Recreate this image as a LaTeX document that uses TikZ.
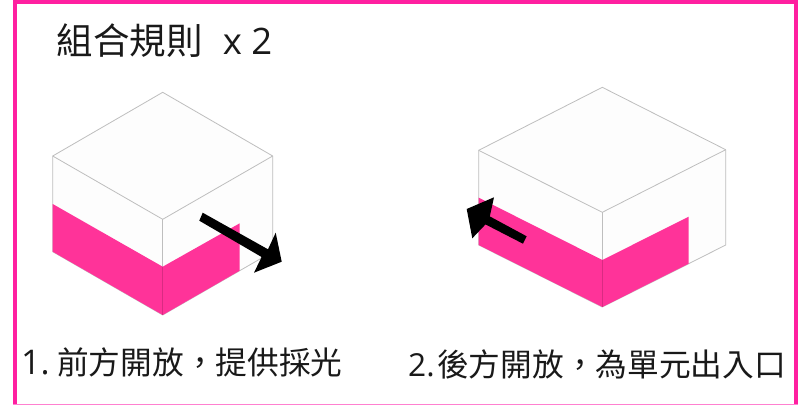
\documentclass[tikz,border=0pt]{standalone}
\usepackage{fontspec}
\setmainfont{Open Sans}
\newfontfamily\cjk{Noto Sans CJK TC}
\newcommand{\fwcomma}{\symbol{"FF0C}}
\definecolor{framepink}{HTML}{FF1FA0}
\definecolor{framelight}{HTML}{FF80D0}
\definecolor{wallpink}{HTML}{FF3399}
\definecolor{edgegrey}{HTML}{BEBEBE}
\definecolor{boxwhite}{HTML}{FDFDFD}
\tikzset{
  frameline/.style={fill=framepink,draw=none},
  boxface/.style={fill=boxwhite,draw=edgegrey,line width=0.8pt,line join=round},
  pinkface/.style={fill=wallpink,draw=none},
  seam/.style={draw=wallpink!85!black,line width=0.6pt},
  blackarrow/.style={fill=black,draw=none},
  titletext/.style={anchor=base west,inner sep=0pt,text=black!90,font=\fontsize{36.5}{40}\selectfont},
  captext/.style={anchor=base west,inner sep=0pt,text=black!90,font=\fontsize{31.7}{36}\selectfont}
}
\begin{document}
\begin{tikzpicture}[x=1pt,y=-1pt]
\useasboundingbox (0,0) rectangle (798,405);
\fill[white] (0,0) rectangle (798,405);
% frame
\fill[frameline] (13,0) rectangle (798,4);
\fill[frameline] (13,0) rectangle (17,405);
\fill[frameline] (794,0) rectangle (797.5,405);
\fill[framelight] (13,403.6) rectangle (798,405);
% title
\node[titletext] (title) at (56.5,54) {{\cjk 組合規則}\hspace{0.55em}x 2};
% cube 1
\draw[boxface] (52.7,156) -- (162.7,92.3) -- (272.7,156) -- (272.7,251.7) -- (239.7,270.7) -- (162.7,315) -- (52.7,251.7) -- cycle;
\draw[boxface,fill=none] (52.7,156) -- (162.7,219.3) -- (272.7,156);
\draw[boxface,fill=none] (162.7,219.3) -- (162.7,266.7);
\fill[pinkface] (52.7,204) -- (162.7,266.7) -- (239.7,223.3) -- (239.7,270.7) -- (162.7,315) -- (52.7,251.7) -- cycle;
\draw[seam] (162.7,266.7) -- (162.7,315);
\fill[blackarrow] (202.7,212.7) -- (268.0,249.3) -- (275.7,232.7) -- (281.7,261.7) -- (254,272.7) -- (261.6,257.0) -- (199.3,220.7) -- cycle;
% cube 2
\draw[boxface] (478.7,150.3) -- (602.3,87.3) -- (725.7,149.7) -- (725.7,245) -- (688.7,263.7) -- (602.3,307) -- (478.7,245) -- cycle;
\draw[boxface,fill=none] (478.7,150.3) -- (602.3,212.3) -- (725.7,149.7);
\draw[boxface,fill=none] (602.3,212.3) -- (602.3,260);
\fill[pinkface] (478.7,197.7) -- (602.3,260) -- (688.7,216.7) -- (688.7,263.7) -- (602.3,307) -- (478.7,245) -- cycle;
\draw[seam] (602.3,260) -- (602.3,307);
\fill[blackarrow] (526.7,236.3) -- (489.8,216.4) -- (494,197.3) -- (466.7,209) -- (472.3,238.3) -- (485.5,224.4) -- (523,243.7) -- cycle;
% captions
\node[captext] (cap1) at (21,374) {\makebox[36pt][l]{\fontsize{34}{36}\selectfont 1.}{\cjk 前方開放\fwcomma 提供採光}};
\node[captext] (cap2) at (408,376) {\makebox[29pt][l]{2.}{\cjk 後方開放\fwcomma 為單元出入口}};
\end{tikzpicture}
\end{document}
